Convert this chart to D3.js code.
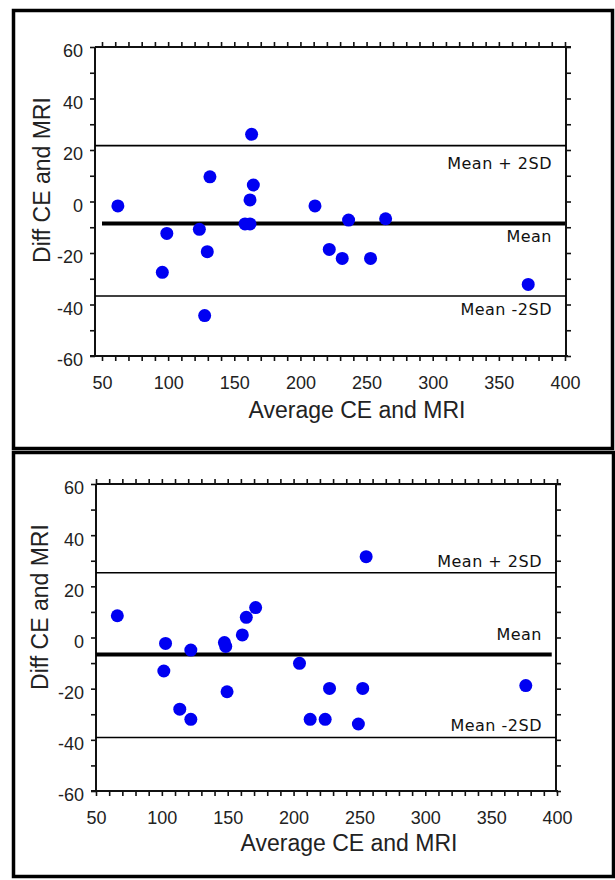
<!DOCTYPE html>
<html>
<head>
<meta charset="utf-8">
<script src="https://cdn.jsdelivr.net/npm/d3@7"></script>
<style>
  html, body { margin: 0; padding: 0; background: #fff; }
  svg { display: block; }
</style>
</head>
<body>
<svg id="chart" width="615" height="880"></svg>
<script>
// ---------- data ----------
const xTickValues = [50, 100, 150, 200, 250, 300, 350, 400];
const yTickValues = [-60, -40, -20, 0, 20, 40, 60];
const xTitle = "Average CE and MRI";
const yTitle = "Diff CE and MRI";
const refLabels = ["Mean + 2SD", "Mean", "Mean -2SD"];

// Panel 1 (top)
const p1Avg  = [62, 99, 95.6, 123.6, 131.6, 129.6, 127.6, 163.1, 164.4, 161.9, 158.1, 161.9, 211, 221.8, 231.6, 236.4, 253, 264.4, 372.2];
const p1Diff = [-1.7, -12.4, -27.5, -10.8, 9.6, -19.5, -44.3, 26.1, 6.4, 0.6, -8.7, -8.7, -1.7, -18.6, -22.1, -7.2, -22.1, -6.7, -32.2];
const p1Ref  = [21.7, -8.5, -36.7];   // Mean + 2SD, Mean, Mean - 2SD

// Panel 2 (bottom)
const p2Avg  = [66.2, 102.8, 101.5, 113.6, 122, 122, 147.5, 148.5, 149.5, 161.1, 164.1, 171.2, 204.5, 212.6, 224, 227.3, 249.2, 252.5, 255.1, 376.3];
const p2Diff = [8.5, -2.3, -13.1, -28, -32, -4.9, -2, -3.5, -21.2, 1, 7.9, 11.7, -10.1, -32, -32, -19.9, -33.8, -19.9, 31.6, -18.8];
const p2Ref  = [25.3, -6.6, -39.1];

// ---------- layout ----------
const svg = d3.select("#chart");
const fontSans = "'Liberation Sans', Arial, Helvetica, sans-serif";
const fontLbl = "'DejaVu Sans', Verdana, sans-serif";

const panels = [
  {
    frame: [13.5, 10.5, 599, 438],
    xRange: [102, 565], yRange: [356, 47],
    left: 95, right: 566,
    avg: p1Avg, diff: p1Diff, ref: p1Ref,
    meanExtent: [50, 400],
    labelDy: [18, 13, 13],
    yTitlePos: [42, 180],
    xTitlePos: [357, 418]
  },
  {
    frame: [13.5, 452.5, 600, 424],
    xRange: [96, 557], yRange: [791, 484],
    left: 96, right: 556,
    avg: p2Avg, diff: p2Diff, ref: p2Ref,
    meanExtent: [50, 396],
    labelDy: [-11, -20, -12],
    yTitlePos: [40, 607],
    xTitlePos: [349, 851]
  }
];

panels.forEach(p => {
  const g = svg.append("g");
  const x = d3.scaleLinear().domain([50, 400]).range(p.xRange);
  const y = d3.scaleLinear().domain([-60, 60]).range(p.yRange);
  const top = p.yRange[1], bottom = p.yRange[0];

  // outer panel border
  g.append("rect")
    .attr("x", p.frame[0]).attr("y", p.frame[1])
    .attr("width", p.frame[2]).attr("height", p.frame[3])
    .attr("fill", "none").attr("stroke", "#000").attr("stroke-width", 3.5);

  const minorX = d3.range(50, 401, 10);
  const minorY = d3.range(-60, 61, 10);

  // bottom axis
  const bAx = g.append("g").attr("transform", `translate(0,${bottom})`)
    .call(d3.axisBottom(x).tickValues(minorX).tickSize(5).tickPadding(15)
      .tickFormat(d => xTickValues.includes(d) ? d : ""));
  // top axis
  const tAx = g.append("g").attr("transform", `translate(0,${top})`)
    .call(d3.axisTop(x).tickValues(minorX).tickSize(5).tickFormat(""));
  // left axis
  const lAx = g.append("g").attr("transform", `translate(${p.left},0)`)
    .call(d3.axisLeft(y).tickValues(minorY).tickSize(5).tickPadding(7)
      .tickFormat(d => yTickValues.includes(d) ? d : ""));
  // right axis
  const rAx = g.append("g").attr("transform", `translate(${p.right},0)`)
    .call(d3.axisRight(y).tickValues(minorY).tickSize(5).tickFormat(""));

  [bAx, tAx, lAx, rAx].forEach(a => {
    a.select(".domain").remove();
    a.selectAll(".tick line").attr("stroke", "#111").attr("stroke-width", 1.6);
    a.selectAll(".tick text")
      .attr("fill", "#222")
      .style("font-family", fontSans)
      .style("font-size", "18px");
  });
  lAx.selectAll(".tick text").attr("dy", "0.55em");
  // left axis ticks at the left axis x but positioned on y scale
  // frame lines
  g.append("line").attr("x1", p.left).attr("x2", p.left).attr("y1", top).attr("y2", bottom)
    .attr("stroke", "#111").attr("stroke-width", 2);
  g.append("line").attr("x1", p.right).attr("x2", p.right).attr("y1", top).attr("y2", bottom)
    .attr("stroke", "#111").attr("stroke-width", 2);
  g.append("line").attr("x1", p.left).attr("x2", p.right + 5).attr("y1", top).attr("y2", top)
    .attr("stroke", "#111").attr("stroke-width", 2);
  g.append("line").attr("x1", p.left - 5).attr("x2", p.right + 2).attr("y1", bottom).attr("y2", bottom)
    .attr("stroke", "#111").attr("stroke-width", 2);

  // reference lines
  p.ref.forEach((v, i) => {
    const isMean = i === 1;
    g.append("line")
      .attr("x1", isMean ? x(p.meanExtent[0]) : p.left)
      .attr("x2", isMean ? x(p.meanExtent[1]) : p.right)
      .attr("y1", y(v)).attr("y2", y(v))
      .attr("stroke", "#000")
      .attr("stroke-width", isMean ? 4 : 1.6);
    g.append("text")
      .attr("x", p.right - 14)
      .attr("y", y(v) + p.labelDy[i])
      .attr("text-anchor", "end")
      .attr("dominant-baseline", "central")
      .attr("fill", "#111")
      .style("font-family", fontLbl)
      .style("font-size", "16px")
      .style("letter-spacing", "0.5px")
      .text(refLabels[i]);
  });

  // points
  g.selectAll("circle.pt").data(p.avg.map((a, i) => [a, p.diff[i]]))
    .enter().append("circle").attr("class", "pt")
    .attr("cx", d => x(d[0])).attr("cy", d => y(d[1]))
    .attr("r", 6.5).attr("fill", "#0000f2");

  // axis titles
  g.append("text")
    .attr("transform", `translate(${p.yTitlePos[0]},${p.yTitlePos[1]}) rotate(-90)`)
    .attr("text-anchor", "middle").attr("dominant-baseline", "central")
    .attr("fill", "#222")
    .style("font-family", fontSans).style("font-size", "23px")
    .text(yTitle);
  g.append("text")
    .attr("x", p.xTitlePos[0]).attr("y", p.xTitlePos[1])
    .attr("text-anchor", "middle")
    .attr("fill", "#222")
    .style("font-family", fontSans).style("font-size", "23px")
    .text(xTitle);
});
</script>
</body>
</html>
